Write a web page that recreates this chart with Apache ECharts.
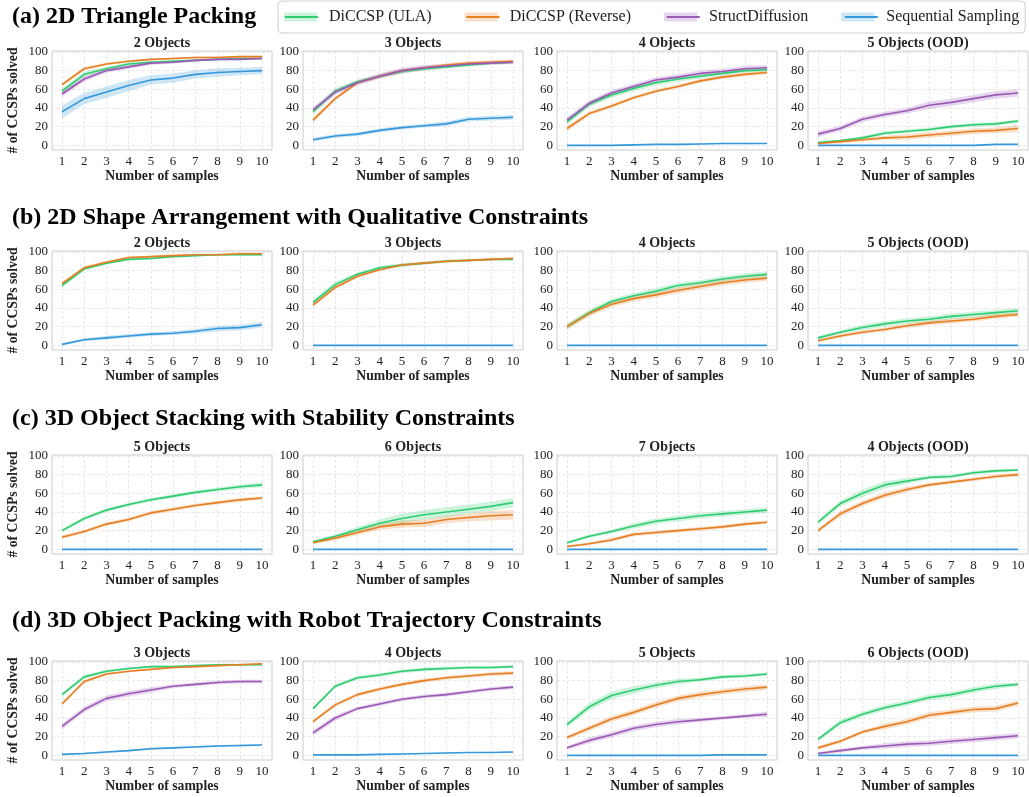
<!DOCTYPE html>
<html><head><meta charset="utf-8">
<script src="https://cdn.jsdelivr.net/npm/echarts@6/dist/echarts.min.js"></script>
<style>html,body{margin:0;padding:0;background:#fff}#c{width:1029px;height:797px}</style>
</head><body><div id="c"></div>
<script>
// ---------------- data ----------------
const samples = [1, 2, 3, 4, 5, 6, 7, 8, 9, 10];
const yTicks = [0, 20, 40, 60, 80, 100];
const methods = ['DiCCSP (ULA)', 'DiCCSP (Reverse)', 'StructDiffusion', 'Sequential Sampling'];
const rowTitles = [
  '(a) 2D Triangle Packing',
  '(b) 2D Shape Arrangement with Qualitative Constraints',
  '(c) 3D Object Stacking with Stability Constraints',
  '(d) 3D Object Packing with Robot Trajectory Constraints'
];
const panelTitles = [
  ['2 Objects', '3 Objects', '4 Objects', '5 Objects (OOD)'],
  ['2 Objects', '3 Objects', '4 Objects', '5 Objects (OOD)'],
  ['5 Objects', '6 Objects', '7 Objects', '4 Objects (OOD)'],
  ['3 Objects', '4 Objects', '5 Objects', '6 Objects (OOD)']
];
const yAxisName = '# of CCSPs solved';
const xAxisName = 'Number of samples';

// each panel: mean value per method and half-width of its shaded band (null = method not shown)
const a1 = {
  ula: [58, 76, 82, 87, 89, 90, 91, 92, 93, 93], ulaErr: [3, 3, 2, 2, 1.5, 1.5, 1, 1, 1, 1],
  rev: [65, 82, 87, 90, 92, 93, 94, 94, 95, 95], revErr: [2, 2, 1.5, 1, 1, 1, 1, 1, 1, 1],
  sd: [55, 71, 80, 84, 88, 89, 91, 92, 92, 93], sdErr: [3, 3, 2, 2, 2, 1.5, 1.5, 1, 1, 1],
  seq: [36, 50, 57, 64, 70, 72, 76, 78, 79, 80], seqErr: [7, 6, 6, 6, 5, 5, 4.5, 4.5, 4, 4]
};
const a2 = {
  ula: [36, 58, 68, 74, 79, 82, 84, 86, 88, 89], ulaErr: [3, 3, 2, 2, 2, 2, 2, 1.5, 1.5, 1.5],
  rev: [27, 50, 67, 74, 80, 83, 86, 88, 89, 90], revErr: [3, 2, 2, 2, 2, 2, 2, 2, 2, 2],
  sd: [38, 57, 67, 74, 80, 83, 85, 87, 88, 89], sdErr: [3, 3, 3, 3, 3, 3, 2, 2, 2, 2],
  seq: [6, 10, 12, 16, 19, 21, 23, 28, 29, 30], seqErr: [2, 2, 2, 2, 2, 2, 2.5, 2.5, 2.5, 2.5]
};
const a3 = {
  ula: [25, 44, 54, 61, 67, 71, 74, 77, 80, 81], ulaErr: [3, 3, 3, 3, 3, 3, 2.5, 2.5, 2, 2],
  rev: [18, 34, 42, 51, 58, 63, 69, 73, 76, 78], revErr: [3, 2, 2, 2, 2, 2, 2, 2, 2, 2],
  sd: [27, 45, 56, 63, 70, 73, 77, 79, 82, 83], sdErr: [3, 3, 3, 3, 3, 3, 3, 3, 3, 3],
  seq: [0, 0, 0, 0.5, 1, 1, 1.5, 2, 2, 2], seqErr: [0.4, 0.4, 0.4, 0.4, 0.5, 0.5, 0.5, 0.5, 0.5, 0.5]
};
const a4 = {
  ula: [3, 5, 8, 13, 15, 17, 20, 22, 23, 26], ulaErr: [1, 1, 2, 2, 2, 2, 2, 2, 2, 2],
  rev: [2, 4, 6, 8, 9, 11, 13, 15, 16, 18], revErr: [1, 2, 2, 2, 3, 3, 3, 3, 3, 4],
  sd: [12, 18, 28, 33, 37, 43, 46, 50, 54, 56], sdErr: [3, 3, 3, 3, 3, 4, 4, 4, 4, 4],
  seq: [0, 0, 0, 0, 0, 0, 0, 0, 1, 1], seqErr: [0.4, 0.4, 0.4, 0.4, 0.4, 0.4, 0.4, 0.4, 0.5, 0.5]
};
const b1 = {
  ula: [64, 82, 88, 92, 93, 95, 96, 97, 97, 97], ulaErr: [2, 2, 1.5, 1, 1, 1, 1, 1, 1, 1],
  rev: [66, 83, 89, 94, 95, 96, 97, 97, 98, 98], revErr: [2, 2, 1.5, 1, 1, 1, 1, 1, 1, 1],
  sd: null, sdErr: null,
  seq: [1, 6, 8, 10, 12, 13, 15, 18, 19, 22], seqErr: [1, 1.5, 2, 2, 2, 2, 2.5, 3, 3, 3]
};
const b2 = {
  ula: [46, 65, 76, 83, 86, 88, 90, 91, 92, 92], ulaErr: [3, 3, 2, 2, 2, 1.5, 1.5, 1, 1, 1],
  rev: [43, 62, 74, 81, 86, 88, 90, 91, 92, 93], revErr: [2, 2, 2, 1.5, 1.5, 1.5, 1.5, 1.5, 1.5, 1.5],
  sd: null, sdErr: null,
  seq: [0, 0, 0, 0, 0, 0, 0, 0, 0, 0], seqErr: [0.3, 0.3, 0.3, 0.3, 0.3, 0.3, 0.3, 0.3, 0.3, 0.3]
};
const b3 = {
  ula: [20, 35, 47, 53, 58, 64, 67, 71, 74, 76], ulaErr: [3, 3, 3, 3, 3, 3, 3, 3, 3, 3],
  rev: [20, 34, 44, 50, 54, 59, 63, 67, 70, 72], revErr: [3, 3, 3, 3, 3, 3, 3, 3, 3, 3],
  sd: null, sdErr: null,
  seq: [0, 0, 0, 0, 0, 0, 0, 0, 0, 0], seqErr: [0.3, 0.3, 0.3, 0.3, 0.3, 0.3, 0.3, 0.3, 0.3, 0.3]
};
const b4 = {
  ula: [8, 14, 19, 23, 26, 28, 31, 33, 35, 37], ulaErr: [2, 2, 3, 3, 3, 3, 3, 3, 3, 3],
  rev: [5, 10, 14, 17, 21, 24, 26, 28, 31, 33], revErr: [1.5, 2, 2, 2, 2.5, 2.5, 2.5, 2.5, 2.5, 2.5],
  sd: null, sdErr: null,
  seq: [0, 0, 0, 0, 0, 0, 0, 0, 0, 0], seqErr: [0.3, 0.3, 0.3, 0.3, 0.3, 0.3, 0.3, 0.3, 0.3, 0.3]
};
const c1 = {
  ula: [20, 33, 42, 48, 53, 57, 61, 64, 67, 69], ulaErr: [2, 2, 2, 2, 2, 2, 2, 2, 2.5, 2.5],
  rev: [13, 19, 27, 32, 39, 43, 47, 50, 53, 55], revErr: [2, 2, 2, 2, 2, 2, 2, 2, 2, 2],
  sd: null, sdErr: null,
  seq: [0, 0, 0, 0, 0, 0, 0, 0, 0, 0], seqErr: [0.4, 0.4, 0.4, 0.4, 0.4, 0.4, 0.4, 0.4, 0.4, 0.4]
};
const c2 = {
  ula: [8, 14, 21, 28, 33, 37, 40, 43, 46, 50], ulaErr: [1.5, 2, 3, 4, 5, 5, 5, 5, 5, 5],
  rev: [7, 12, 18, 24, 27, 28, 32, 34, 36, 37], revErr: [1.5, 2, 3, 3, 4, 4, 4, 4, 5, 5],
  sd: null, sdErr: null,
  seq: [0, 0, 0, 0, 0, 0, 0, 0, 0, 0], seqErr: [0.4, 0.4, 0.4, 0.4, 0.4, 0.4, 0.4, 0.4, 0.4, 0.4]
};
const c3 = {
  ula: [7, 14, 19, 25, 30, 33, 36, 38, 40, 42], ulaErr: [1.5, 2, 2, 3, 3, 3, 3, 3, 3, 3],
  rev: [3, 6, 10, 16, 18, 20, 22, 24, 27, 29], revErr: [1, 1.5, 2, 2, 2, 2, 2, 2, 2, 2],
  sd: null, sdErr: null,
  seq: [0, 0, 0, 0, 0, 0, 0, 0, 0, 0], seqErr: [0.4, 0.4, 0.4, 0.4, 0.4, 0.4, 0.4, 0.4, 0.4, 0.4]
};
const c4 = {
  ula: [29, 49, 60, 69, 73, 77, 78, 82, 84, 85], ulaErr: [3, 3, 4, 4, 3, 2, 2, 2, 2, 1.5],
  rev: [20, 38, 49, 58, 64, 69, 72, 75, 78, 80], revErr: [2, 3, 3, 3, 3, 2, 2, 2, 2, 2],
  sd: null, sdErr: null,
  seq: [0, 0, 0, 0, 0, 0, 0, 0, 0, 0], seqErr: [0.4, 0.4, 0.4, 0.4, 0.4, 0.4, 0.4, 0.4, 0.4, 0.4]
};
const d1 = {
  ula: [65, 84, 90, 93, 95, 95, 96, 97, 97, 97], ulaErr: [2, 2, 1.5, 1, 1, 1, 1, 1, 1, 1],
  rev: [55, 79, 87, 90, 92, 94, 95, 96, 97, 98], revErr: [2, 2, 1.5, 1, 1, 1, 1, 1, 1, 1],
  sd: [31, 49, 61, 66, 70, 74, 76, 78, 79, 79], sdErr: [3, 3, 3, 3, 3, 2, 2, 2, 2, 2],
  seq: [1, 2, 3.5, 5, 7, 8, 9, 10, 10.5, 11], seqErr: [0.5, 1, 1, 1, 1, 1, 1, 1, 1, 1]
};
const d2 = {
  ula: [50, 74, 83, 86, 90, 92, 93, 94, 94, 95], ulaErr: [2, 2, 2, 2, 2, 2, 2, 1.5, 1.5, 1.5],
  rev: [36, 54, 65, 71, 76, 80, 83, 85, 87, 88], revErr: [2, 2, 2, 2, 2, 2, 2, 2, 2, 2],
  sd: [24, 40, 50, 55, 60, 63, 65, 68, 71, 73], sdErr: [3, 3, 2, 2, 2, 2, 2, 2, 2, 2],
  seq: [0.5, 0.5, 0.5, 1, 1.5, 2, 2.5, 3, 3, 3.5], seqErr: [0.5, 0.5, 0.5, 0.5, 0.5, 0.5, 0.5, 0.5, 0.5, 0.5]
};
const d3 = {
  ula: [33, 52, 64, 70, 75, 79, 81, 84, 85, 87], ulaErr: [3, 4, 4, 4, 3, 3, 2, 2, 2, 2],
  rev: [19, 29, 39, 46, 54, 61, 65, 68, 71, 73], revErr: [2, 3, 3, 3, 3, 3, 3, 3, 3, 3],
  sd: [8, 16, 22, 29, 33, 36, 38, 40, 42, 44], sdErr: [2, 3, 3, 3, 3, 3, 2, 2, 2, 3],
  seq: [0, 0, 0, 0, 0, 0, 0, 0.5, 0.5, 0.5], seqErr: [0.4, 0.4, 0.4, 0.4, 0.4, 0.4, 0.4, 0.4, 0.4, 0.4]
};
const d4 = {
  ula: [17, 35, 44, 51, 56, 62, 65, 70, 74, 76], ulaErr: [2, 3, 3, 3, 3, 3, 3, 3, 3, 2],
  rev: [8, 15, 25, 31, 36, 43, 46, 49, 50, 56], revErr: [2, 2, 2, 3, 3, 3, 3, 3, 3, 3],
  sd: [2, 5, 8, 10, 12, 13, 15, 17, 19, 21], sdErr: [1.5, 2, 2, 3, 3, 3, 3, 3, 3, 3],
  seq: [0, 0, 0, 0, 0, 0, 0, 0, 0, 0], seqErr: [0.3, 0.3, 0.3, 0.3, 0.3, 0.3, 0.3, 0.3, 0.3, 0.3]
};
const panels = [[a1, a2, a3, a4], [b1, b2, b3, b4], [c1, c2, c3, c4], [d1, d2, d3, d4]];

// ---------------- style / layout ----------------
const FONT = '"Liberation Serif","Times New Roman",serif';
const keys = ['ula', 'rev', 'sd', 'seq'];
const colors = ['#2ecc71', '#e67e22', '#9b59b6', '#3498db'];
const bandColors = ['rgba(46,204,113,0.24)', 'rgba(230,126,34,0.24)', 'rgba(155,89,182,0.24)', 'rgba(52,152,219,0.24)'];
const gridLeft = [52, 303, 557, 808];
const gridTop = [51, 251, 455, 661];
const gridW = 220, gridH = 99;
const rowTitleY = [17, 218, 419, 621];
const panelTitleY = [43, 243, 447, 653];

// band renderer: one polygon per series, built from all its data items via the axis scales
function bandRenderer(fill) {
  return function (params, api) {
    if (params.dataIndexInside !== 0) return null;
    const n = params.dataInsideLength;
    const upper = [], lower = [];
    for (let i = 0; i < n; i++) {
      upper.push(api.coord([api.value(0, i), api.value(2, i)]));
      lower.push(api.coord([api.value(0, i), api.value(1, i)]));
    }
    const pts = upper.concat(lower.reverse());
    return { type: 'polygon', shape: { points: pts }, style: { fill: fill }, silent: true };
  };
}

const grids = [], xAxes = [], yAxes = [], series = [], graphics = [];
for (let r = 0; r < 4; r++) {
  graphics.push({ type: 'text', x: 12, y: rowTitleY[r], z: 10,
    style: { text: rowTitles[r], font: 'bold 24px ' + FONT, fill: '#000', align: 'left', verticalAlign: 'middle' } });
  for (let c = 0; c < 4; c++) {
    const idx = r * 4 + c;
    const p = panels[r][c];
    grids.push({ left: gridLeft[c], top: gridTop[r], width: gridW, height: gridH,
      show: true, borderColor: '#cccccc', borderWidth: 1, backgroundColor: 'transparent' });
    graphics.push({ type: 'text', x: gridLeft[c] + gridW / 2, y: panelTitleY[r], z: 10,
      style: { text: panelTitles[r][c], font: 'bold 14px ' + FONT, fill: '#222', align: 'center', verticalAlign: 'middle' } });
    xAxes.push({ gridIndex: idx, type: 'value', min: 0.55, max: 10.45,
      axisLine: { show: false }, axisTick: { show: false, customValues: samples },
      axisLabel: { customValues: samples, margin: 5, fontSize: 13, fontFamily: FONT, color: '#222' },
      splitLine: { show: true, lineStyle: { type: [3, 2], color: '#e2e2e2', width: 0.8 } },
      name: xAxisName, nameLocation: 'middle', nameGap: 19,
      nameTextStyle: { fontSize: 13.7, fontWeight: 'bold', fontFamily: FONT, color: '#222' } });
    yAxes.push({ gridIndex: idx, type: 'value', min: -5, max: 101,
      axisLine: { show: false }, axisTick: { show: false, customValues: yTicks },
      axisLabel: { customValues: yTicks, margin: 4, fontSize: 13, fontFamily: FONT, color: '#222' },
      splitLine: { show: true, lineStyle: { type: [3, 2], color: '#e2e2e2', width: 0.8 } },
      name: c === 0 ? yAxisName : '', nameLocation: 'middle', nameGap: 32,
      nameTextStyle: { fontSize: 13.7, fontWeight: 'bold', fontFamily: FONT, color: '#222' } });
    keys.forEach((k, m) => {
      const mean = p[k], err = p[k + 'Err'];
      if (!mean) return;
      series.push({ type: 'custom', xAxisIndex: idx, yAxisIndex: idx, silent: true,
        data: samples.map((x, i) => [x, mean[i] - err[i], mean[i] + err[i]]),
        encode: { x: 0, y: [1, 2] }, renderItem: bandRenderer(bandColors[m]),
        clip: true, z: 1, animation: false });
    });
    keys.forEach((k, m) => {
      const mean = p[k];
      if (!mean) return;
      series.push({ type: 'line', name: methods[m], xAxisIndex: idx, yAxisIndex: idx,
        data: samples.map((x, i) => [x, mean[i]]), symbol: 'none', showSymbol: false,
        lineStyle: { width: 1.6, color: colors[m] }, itemStyle: { color: colors[m] }, z: 3 + m, animation: false });
    });
  }
}

const legendCommon = { left: 278, top: 1, orient: 'horizontal', itemWidth: 33, itemHeight: 9, itemGap: 33,
  padding: [8, 6, 8, 6], selectedMode: false };
const legendA = Object.assign({}, legendCommon, {
  backgroundColor: '#fff', borderColor: '#d0d0d0', borderWidth: 1, borderRadius: 4,
  icon: 'rect',
  data: methods.map((n, m) => ({ name: n, itemStyle: { color: bandColors[m], borderWidth: 0, opacity: 1 } })),
  textStyle: { fontSize: 16, fontFamily: FONT, color: '#222', padding: [0, 0, 0, 7] }, z: 20
});
const legendB = Object.assign({}, legendCommon, {
  data: methods.slice(),
  itemStyle: { opacity: 0 },
  lineStyle: { width: 1.8 },
  textStyle: { fontSize: 16, fontFamily: FONT, color: 'rgba(0,0,0,0)', padding: [0, 0, 0, 7] }, z: 21
});

const chart = echarts.init(document.getElementById('c'), null, { renderer: 'canvas' });
chart.setOption({
  backgroundColor: '#fff',
  animation: false,
  legend: [legendA, legendB],
  grid: grids, xAxis: xAxes, yAxis: yAxes, series: series,
  graphic: graphics
});
</script></body></html>
